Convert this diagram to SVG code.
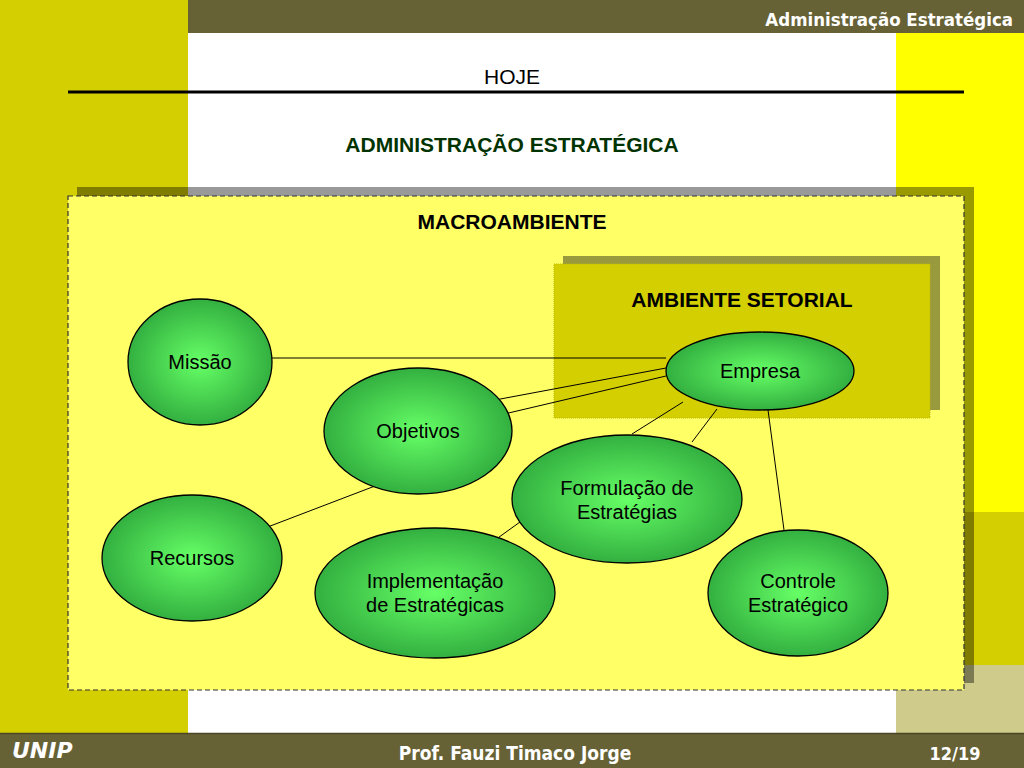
<svg xmlns="http://www.w3.org/2000/svg" width="1024" height="768" viewBox="0 0 1024 768">
<defs>
<radialGradient id="g" cx="50%" cy="50%" r="50%">
<stop offset="0" stop-color="#66FF66"/>
<stop offset="1" stop-color="#33B040"/>
</radialGradient>
<style>
.node ellipse{fill:url(#g);stroke:#000;stroke-width:1.3}
.lbl{font-family:"Liberation Sans",Arial,sans-serif;font-size:20px;fill:#000;text-anchor:middle}
.ttl{font-family:"Liberation Sans",Arial,sans-serif;font-size:21px;fill:#000;text-anchor:middle}
.bold{font-weight:bold}
.hdr{font-family:"DejaVu Sans Condensed","DejaVu Sans",sans-serif;font-weight:bold;fill:#fff}
.conn line{stroke:#000;stroke-width:1}
</style>
</defs>
<!-- background -->
<rect x="0" y="0" width="1024" height="768" fill="#fff"/>
<rect x="0" y="0" width="188" height="733" fill="#D4CF00"/>
<rect x="896" y="33" width="128" height="479" fill="#FFFF00"/>
<rect x="896" y="512" width="128" height="153" fill="#D4CF00"/>
<rect x="896" y="665" width="128" height="68" fill="#CFCB8A"/>
<rect x="188" y="0" width="836" height="33" fill="#676235"/>
<rect x="0" y="733" width="1024" height="35" fill="#676235"/>
<line x1="0" y1="733.5" x2="1024" y2="733.5" stroke="#4A4626" stroke-width="1.5"/>
<text x="1013" y="26" class="hdr" font-size="18.5" text-anchor="end">Administração Estratégica</text>
<text x="12" y="758" class="hdr" font-size="22" font-style="italic" style="font-family:'DejaVu Sans',sans-serif">UNIP</text>
<text x="515" y="760" class="hdr" font-size="19" text-anchor="middle">Prof. Fauzi Timaco Jorge</text>
<text x="955" y="760" class="hdr" font-size="18" text-anchor="middle">12/19</text>
<!-- titles -->
<text x="512" y="84" class="ttl">HOJE</text>
<line x1="68" y1="92" x2="964" y2="92" stroke="#000" stroke-width="3"/>
<text x="512" y="152" class="ttl bold" style="fill:#003300">ADMINISTRAÇÃO ESTRATÉGICA</text>
<!-- macro box -->
<g id="macroambiente">
<rect x="77" y="187" width="897" height="496" fill="#000" opacity="0.4"/>
<rect x="68" y="196" width="896" height="494" fill="#FFFF66" stroke="#333" stroke-width="1.2" stroke-dasharray="5,3"/>
<text x="512" y="229" class="ttl bold">MACROAMBIENTE</text>
</g>
<g id="ambiente-setorial">
<rect x="563" y="256" width="377" height="154" fill="#000" opacity="0.4"/>
<rect x="554" y="264" width="376" height="154" fill="#D4CF00" stroke="#BDB800" stroke-width="1" stroke-dasharray="1,1"/>
<text x="742" y="307" class="ttl bold">AMBIENTE SETORIAL</text>
</g>
<!-- connectors -->
<g id="connectors" class="conn">
<line x1="272" y1="358" x2="666" y2="358"/>
<line x1="495" y1="400" x2="666" y2="368"/>
<line x1="500" y1="415" x2="666" y2="376"/>
<line x1="632" y1="434" x2="683" y2="402"/>
<line x1="692" y1="442" x2="717" y2="409"/>
<line x1="265" y1="528" x2="375" y2="486"/>
<line x1="495" y1="540" x2="520" y2="522"/>
<line x1="768" y1="410" x2="784" y2="530"/>
</g>
<!-- nodes -->
<g id="missao" class="node"><ellipse cx="200" cy="362" rx="72" ry="63"/><text x="200" y="369" class="lbl">Missão</text></g>
<g id="empresa" class="node"><ellipse cx="760" cy="371" rx="94" ry="39"/><text x="760" y="378" class="lbl">Empresa</text></g>
<g id="objetivos" class="node"><ellipse cx="418" cy="431" rx="94" ry="63"/><text x="418" y="438" class="lbl">Objetivos</text></g>
<g id="formulacao" class="node"><ellipse cx="627" cy="499" rx="115" ry="64"/><text x="627" y="495" class="lbl">Formulação de</text><text x="627" y="519" class="lbl">Estratégias</text></g>
<g id="recursos" class="node"><ellipse cx="192" cy="558" rx="90" ry="63"/><text x="192" y="565" class="lbl">Recursos</text></g>
<g id="implementacao" class="node"><ellipse cx="435" cy="593" rx="120" ry="65"/><text x="435" y="588" class="lbl">Implementação</text><text x="435" y="612" class="lbl">de Estratégicas</text></g>
<g id="controle" class="node"><ellipse cx="798" cy="593" rx="90" ry="63"/><text x="798" y="588" class="lbl">Controle</text><text x="798" y="612" class="lbl">Estratégico</text></g>
</svg>
